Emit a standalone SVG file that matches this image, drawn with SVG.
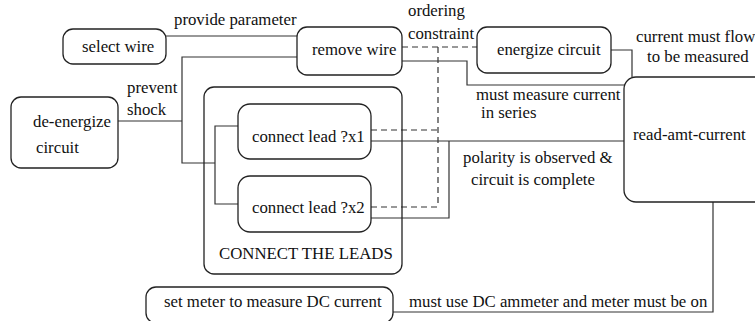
<svg xmlns="http://www.w3.org/2000/svg" width="755" height="321" viewBox="0 0 755 321">
<style>
text{font-family:'Liberation Serif','Times New Roman',Times,'DejaVu Serif',serif;font-size:16.8px;fill:#111}
.box{fill:#fff;stroke:#222;stroke-width:1.3}
.ln{fill:none;stroke:#333;stroke-width:1.2}
.dash{fill:none;stroke:#333;stroke-width:1.2;stroke-dasharray:6 4}
</style>
<rect width="755" height="321" fill="#fff"/>
<g id="connectors" font-family="Liberation Serif, Times New Roman, serif">
<path class="ln" d="M166,36 H297"/>
<path class="ln" d="M297,57 H182 V163 H215"/>
<path class="ln" d="M118,121 H182"/>
<path class="ln" d="M238,126 H215 V204 H238"/>
<path class="dash" d="M402,47 H477"/>
<path class="dash" d="M438,47 V207"/>
<path class="dash" d="M371,130 H438"/>
<path class="dash" d="M371,207 H438"/>
<path class="ln" d="M371,141 H624"/>
<path class="ln" d="M371,218 H449 V141"/>
<path class="ln" d="M402,61 H467 V85 H626"/>
<path class="ln" d="M611,50 H632 V77"/>
<path class="ln" d="M713,202 V312 H393"/>
<text x="174" y="25">provide parameter</text>
<text x="408" y="16">ordering</text>
<text x="408" y="39">constraint</text>
<text x="636" y="42">current must flow</text>
<text x="647" y="62">to be measured</text>
<text x="127" y="93">prevent</text>
<text x="127" y="115">shock</text>
<text x="476" y="100">must measure current</text>
<text x="481" y="118">in series</text>
<text x="463" y="163">polarity is observed &amp;</text>
<text x="471" y="185">circuit is complete</text>
<text x="409" y="307">must use DC ammeter and meter must be on</text>
</g>
<g id="select-wire">
<rect class="box" x="63" y="29" width="103" height="35" rx="10"/>
<text x="82" y="52">select wire</text>
</g>
<g id="remove-wire">
<rect class="box" x="297" y="27" width="105" height="48" rx="10"/>
<text x="312" y="55">remove wire</text>
</g>
<g id="energize-circuit">
<rect class="box" x="477" y="27" width="134" height="46" rx="10"/>
<text x="497" y="55">energize circuit</text>
</g>
<g id="de-energize-circuit">
<rect class="box" x="11" y="97" width="107" height="71" rx="10"/>
<text x="33" y="127">de-energize</text>
<text x="36" y="153">circuit</text>
</g>
<g id="connect-the-leads">
<rect x="204" y="87" width="198" height="187" rx="10" fill="none" stroke="#222" stroke-width="1.3"/>
<text x="219" y="259">CONNECT THE LEADS</text>
</g>
<g id="connect-lead-x1">
<rect class="box" x="238" y="104" width="133" height="55" rx="12"/>
<text x="252" y="142">connect lead ?x1</text>
</g>
<g id="connect-lead-x2">
<rect class="box" x="238" y="176" width="133" height="56" rx="12"/>
<text x="252" y="213">connect lead ?x2</text>
</g>
<g id="read-amt-current">
<rect class="box" x="624" y="77" width="150" height="125" rx="12"/>
<text x="633" y="140">read-amt-current</text>
</g>
<g id="set-meter">
<rect class="box" x="146" y="287" width="247" height="36" rx="10"/>
<text x="164" y="307">set meter to measure DC current</text>
</g>
</svg>
